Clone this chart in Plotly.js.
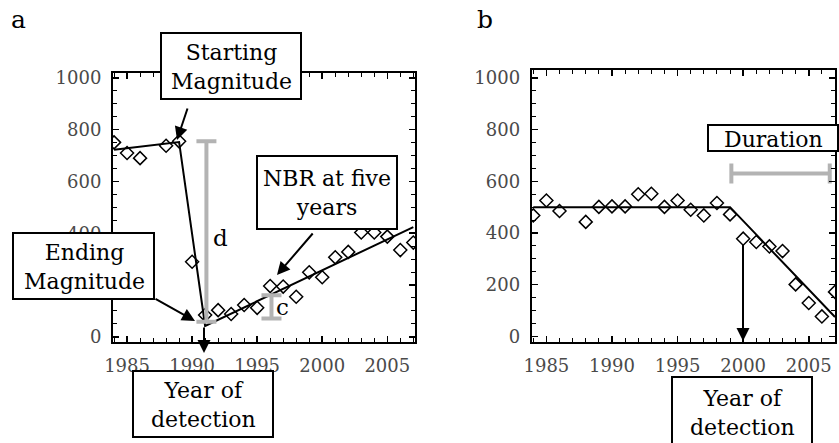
<!DOCTYPE html>
<html>
<head>
<meta charset="utf-8">
<script src="https://cdn.plot.ly/plotly-3.0.1.min.js"></script>
<style>
  body { margin: 0; background: #fff; }
  #chart { width: 839px; height: 443px; }
</style>
</head>
<body>
<div id="chart"></div>
<script>
// annual NBR values (1987 missing in both series)
var years = [1984, 1985, 1986, 1988, 1989, 1990, 1991, 1992, 1993, 1994, 1995, 1996,
             1997, 1998, 1999, 2000, 2001, 2002, 2003, 2004, 2005, 2006, 2007]
var nbrA = [751, 710, 690, 738, 755, 290, 84, 103, 88, 123, 112, 196,
            194, 155, 249, 230, 307, 328, 403, 403, 387, 335, 364]
var nbrB = [468, 526, 485, 443, 501, 503, 503, 550, 552, 501, 526, 490,
            468, 516, 472, 378, 365, 348, 330, 201, 129, 77, 172]

// fitted segments
var fitAx = [1984, 1989, 1991, 2007]
var fitAy = [722, 752, 42, 424]
var fitBx = [1984, 1999, 2007]
var fitBy = [500, 500, 75]

// gray measurement bars
var dBar = { x: 1991.1, lo: 58, hi: 755 }
var cBar = { x: 1996.1, lo: 71, hi: 161 }
var durBar = { y: 630, start: 1999.1, end: 2006.6 }

var W = 839, H = 443
function px(x) { return x / W }
function py(y) { return 1 - y / H }

var serif = 'DejaVu Serif'
var gray = '#b3b3b3'

function axisStyle(extra) {
    var a = {
        showline: true, linecolor: 'black', linewidth: 2, mirror: 'allticks',
        ticks: 'inside', ticklen: 6, tickwidth: 1.5, tickcolor: 'black',
        showgrid: false, zeroline: false, fixedrange: true, ticklabelstandoff: 6,
        tickfont: { family: serif, size: 18, color: '#4a4a4a' }
    }
    for (var k in extra) a[k] = extra[k]
    return a
}

var traces = [
    { x: fitAx, y: fitAy, xaxis: 'x', yaxis: 'y', mode: 'lines', line: { color: 'black', width: 2 } },
    { x: years, y: nbrA, xaxis: 'x', yaxis: 'y', mode: 'markers',
      marker: { symbol: 'diamond-open', size: 10, color: 'black', line: { width: 1.5 } } },
    { x: [dBar.x], y: [(dBar.lo + dBar.hi) / 2], xaxis: 'x', yaxis: 'y', mode: 'markers',
      marker: { size: 1, opacity: 0 },
      error_y: { type: 'data', symmetric: true, array: [(dBar.hi - dBar.lo) / 2], color: gray, thickness: 4, width: 10 } },
    { x: [cBar.x], y: [(cBar.lo + cBar.hi) / 2], xaxis: 'x', yaxis: 'y', mode: 'markers',
      marker: { size: 1, opacity: 0 },
      error_y: { type: 'data', symmetric: true, array: [(cBar.hi - cBar.lo) / 2], color: gray, thickness: 4, width: 10 } },
    { x: fitBx, y: fitBy, xaxis: 'x2', yaxis: 'y2', mode: 'lines', line: { color: 'black', width: 2 } },
    { x: years, y: nbrB, xaxis: 'x2', yaxis: 'y2', mode: 'markers',
      marker: { symbol: 'diamond-open', size: 10, color: 'black', line: { width: 1.5 } } },
    { x: [(durBar.start + durBar.end) / 2], y: [durBar.y], xaxis: 'x2', yaxis: 'y2', mode: 'markers',
      marker: { size: 1, opacity: 0 },
      error_x: { type: 'data', symmetric: true, array: [(durBar.end - durBar.start) / 2], color: gray, thickness: 4, width: 10 } }
]

// label boxes: [left, top, right, bottom] in pixels
var boxes = [
    [161, 33, 301, 99],
    [13, 233, 154, 299],
    [257, 156, 397, 229],
    [133, 371, 273, 437],
    [708, 125, 838, 151],
    [672, 377, 812, 446]
]
var shapes = boxes.map(function (b) {
    return { type: 'rect', xref: 'paper', yref: 'paper', layer: 'above',
             x0: px(b[0]), x1: px(b[2]), y0: py(b[3]), y1: py(b[1]),
             line: { color: 'black', width: 2 }, fillcolor: 'white' }
})

function label(text, x, y, size) {
    return { text: text, xref: 'paper', yref: 'paper', x: px(x), y: py(y),
             showarrow: false, xanchor: 'center', yanchor: 'middle',
             font: { family: serif, size: size || 22, color: 'black' } }
}
function arrow(x0, y0, x1, y1) {
    return { text: '', xref: 'paper', yref: 'paper', x: px(x1), y: py(y1),
             ax: x0 - x1, ay: y0 - y1, showarrow: true, arrowhead: 2,
             arrowsize: 1.3, arrowwidth: 2, arrowcolor: 'black', standoff: 0 }
}

var annotations = [
    label('a', 18, 19, 25),
    label('b', 485, 19, 25),
    label('Starting<br>Magnitude', 231, 67),
    label('Ending<br>Magnitude', 84, 267),
    label('NBR at five<br>years', 327, 193),
    label('Year of<br>detection', 203, 405),
    label('Duration', 773, 139),
    label('Year of<br>detection', 742, 413),
    label('d', 220, 238, 23),
    label('c', 282, 307, 23),
    arrow(188, 107, 177, 140),
    arrow(154, 298, 195, 321),
    arrow(314, 232, 277, 275),
    arrow(204, 326, 204, 353),
    arrow(743, 243, 743, 341)
]

var minorX = { dtick: 1, ticks: 'inside', ticklen: 4, tickwidth: 1, tickcolor: 'black' }
var minorY = { dtick: 50, ticks: 'inside', ticklen: 4, tickwidth: 1, tickcolor: 'black' }

var layout = {
    width: W, height: H,
    margin: { l: 0, r: 0, t: 0, b: 0 },
    paper_bgcolor: 'white', plot_bgcolor: 'white',
    showlegend: false,
    font: { family: serif },
    xaxis: axisStyle({ domain: [px(113), px(415)], range: [1983.92, 2007.13], anchor: 'y',
                       tick0: 1985, dtick: 5, minor: minorX }),
    yaxis: axisStyle({ domain: [py(342), py(72.7)], range: [-20, 1020], anchor: 'x',
                       tick0: 0, dtick: 200, minor: minorY }),
    xaxis2: axisStyle({ domain: [px(531.7), px(835)], range: [1983.88, 2007], anchor: 'y2',
                        tick0: 1985, dtick: 5, minor: minorX }),
    yaxis2: axisStyle({ domain: [py(342), py(70)], range: [-22, 1031], anchor: 'x2',
                        tick0: 0, dtick: 200, minor: minorY }),
    shapes: shapes,
    annotations: annotations
}

Plotly.newPlot('chart', traces, layout, { displayModeBar: false, staticPlot: true })
</script>
</body>
</html>
